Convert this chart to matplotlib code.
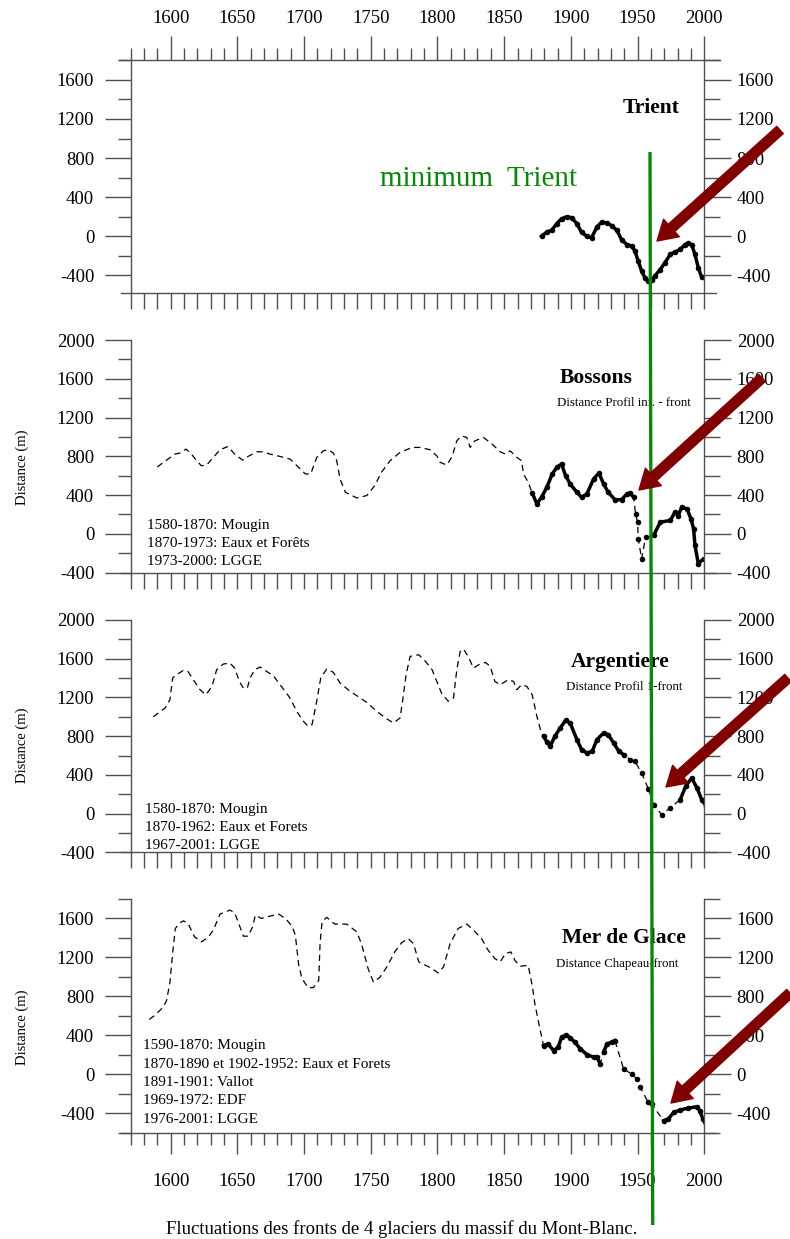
import numpy as np
import matplotlib
matplotlib.use('Agg')
import matplotlib.pyplot as plt
from matplotlib.ticker import MultipleLocator
from matplotlib.patches import FancyArrowPatch
from matplotlib.lines import Line2D
from matplotlib.transforms import blended_transform_factory

plt.rcParams.update({'font.family': ['Liberation Serif', 'DejaVu Serif'], 'axes.unicode_minus': False})

# ---- front positions (year, distance in m) ----
trient_years = [1878, 1882, 1885.5, 1889.5, 1893, 1897, 1900.5, 1904.5, 1908, 1912, 1915.5, 1919.5,
                1923, 1927, 1930.5, 1934.5, 1938, 1942, 1945.5, 1948, 1950.5, 1953, 1955.5, 1958,
                1960.5, 1963, 1967, 1970.5, 1974.5, 1978, 1982, 1985.5, 1988, 1990.5, 1993, 1995.5, 1998]
trient_dist = [0, 44, 60, 130, 180, 200, 190, 130, 40, 0, -15, 95,
               145, 135, 110, 60, -35, -85, -100, -150, -255, -355, -425, -460,
               -450, -405, -340, -270, -185, -160, -135, -85, -70, -85, -185, -320, -420]

bossons_hist_years = [1590, 1597, 1603, 1607, 1611.5, 1615, 1619.5, 1623, 1627, 1632, 1637, 1643, 1648,
                      1654, 1658, 1664.5, 1669.5, 1674.5, 1682, 1689.5, 1696, 1701, 1705, 1709.5, 1714.5,
                      1718, 1722, 1724.5, 1727, 1731, 1739.5, 1747, 1753, 1758, 1764.5, 1772, 1781, 1787,
                      1794.5, 1799.5, 1802, 1807, 1811, 1814.5, 1818, 1822, 1824.5, 1828, 1834.5, 1841,
                      1847, 1851, 1854.5, 1859.5, 1863, 1864.5, 1868]
bossons_hist_dist = [690, 760, 822, 833, 874, 833, 754, 702, 709, 788, 867, 901, 822,
                     760, 798, 846, 846, 822, 798, 771, 685, 617, 617, 788, 856,
                     867, 833, 754, 565, 428, 370, 394, 497, 634, 754, 840, 891, 891,
                     867, 805, 737, 709, 798, 959, 1010, 994, 891, 959, 994, 925,
                     846, 822, 856, 788, 754, 617, 531]
bossons_obs_years = [1871, 1874.5, 1878, 1882, 1886, 1889.5, 1893, 1896, 1899.5, 1904.5, 1908, 1912,
                     1917, 1921, 1924.5, 1928, 1933, 1938, 1942, 1944.5, 1947, np.nan,
                     1948.5, np.nan, 1950, np.nan, 1950.5, np.nan, 1953, np.nan, 1956, np.nan,
                     1962, 1967, 1974.5, 1978, 1980.5, 1983, 1987, 1990, 1992, 1993, 1995.5, 1999.5, 2002]
bossons_obs_dist = [421, 308, 377, 480, 617, 686, 720, 600, 514, 428, 377, 411,
                    565, 627, 514, 428, 352, 352, 411, 421, 377, np.nan,
                    206, np.nan, 120, np.nan, -50, np.nan, -260, np.nan, -35, np.nan,
                    -17, 120, 137, 223, 188, 274, 257, 154, 51, -120, -308, -257, -274]

argentiere_hist_years = [1587, 1591, 1596, 1599.5, 1601.5, 1604.5, 1609.5, 1613, 1617, 1622, 1626.5, 1631,
                         1634.5, 1639.5, 1644.5, 1648, 1651.5, 1654.5, 1657.5, 1659.5, 1663, 1667, 1672,
                         1677, 1683, 1689.5, 1694.5, 1699.5, 1703, 1706, 1709.5, 1712.5, 1717, 1722, 1727,
                         1733, 1739.5, 1747, 1754.5, 1761, 1767, 1772, 1774, 1776.5, 1779.5, 1786, 1791,
                         1796, 1799.5, 1803, 1808, 1812, 1814.5, 1817, 1819.5, 1823, 1827, 1831, 1836,
                         1839.5, 1843, 1847, 1853, 1857, 1859.5, 1863, 1867, 1871, 1874.5, 1877.5]
argentiere_hist_dist = [1000, 1041, 1092, 1177, 1401, 1435, 1479, 1469, 1383, 1280, 1228, 1314,
                        1486, 1545, 1555, 1504, 1366, 1297, 1297, 1401, 1486, 1514, 1469,
                        1424, 1314, 1194, 1057, 954, 902, 920, 1161, 1401, 1494, 1459, 1349,
                        1280, 1218, 1149, 1057, 988, 936, 988, 1177, 1435, 1624, 1641, 1573,
                        1486, 1366, 1246, 1161, 1194, 1486, 1675, 1700, 1624, 1504, 1538, 1562,
                        1521, 1366, 1331, 1383, 1366, 1280, 1331, 1314, 1228, 1005, 850]
argentiere_obs_years = [1879.5, 1882, 1884.5, 1888, 1892, 1896, 1899.5, 1904.5, 1908, 1912, 1916,
                        1919.5, 1924.5, 1928, 1932, 1936, 1939.5, np.nan, 1944.5, np.nan, 1948, np.nan,
                        1953, np.nan, 1958, np.nan, 1962, np.nan, 1968, np.nan, 1974.5, np.nan,
                        1982, 1986, 1990.5, 1994.5, 1998, 2001.5]
argentiere_obs_dist = [798, 740, 695, 798, 884, 963, 936, 764, 661, 626, 643,
                       764, 833, 815, 730, 643, 609, np.nan, 557, np.nan, 540, np.nan,
                       420, np.nan, 258, np.nan, 93, np.nan, -10, np.nan, 59, np.nan,
                       145, 282, 368, 265, 145, 75]

merdeglace_hist_years = [1584, 1588, 1594.5, 1597, 1599.5, 1601.5, 1603.5, 1607, 1609.5, 1613, 1618, 1623,
                         1628, 1632, 1637, 1644.5, 1648, 1651.5, 1654.5, 1658, 1661.5, 1663.5, 1668,
                         1674.5, 1681, 1686, 1691, 1693.5, 1696, 1698.5, 1703, 1707, 1711, 1712, 1713.5,
                         1717, 1723, 1732, 1739.5, 1743, 1748, 1752, 1757, 1762, 1768, 1773, 1778, 1782,
                         1786, 1791, 1796, 1800.5, 1804.5, 1809.5, 1815.5, 1822, 1827, 1833, 1838, 1843,
                         1847, 1851, 1855, 1858, 1862, 1868, 1871, 1873, 1876]
merdeglace_hist_dist = [562, 603, 689, 758, 946, 1239, 1497, 1555, 1576, 1549, 1410, 1359,
                        1404, 1480, 1645, 1686, 1658, 1531, 1418, 1418, 1514, 1634, 1600,
                        1624, 1645, 1600, 1521, 1428, 1119, 981, 889, 889, 964, 1342, 1566,
                        1611, 1542, 1542, 1462, 1342, 1085, 946, 998, 1101, 1256, 1349, 1394, 1342,
                        1153, 1119, 1085, 1040, 1101, 1342, 1497, 1542, 1480, 1394, 1273, 1188,
                        1153, 1239, 1256, 1170, 1108, 1119, 912, 724, 517]
merdeglace_obs_years = [1879.5, 1883, 1887, 1890.5, 1893, 1896.5, 1899.5, 1903, 1907, 1912, 1917,
                        1919.5, 1922, np.nan, 1924.5, 1927, 1930.5, 1933, np.nan, 1939.5, np.nan,
                        1945.5, np.nan, 1949.5, np.nan, 1952, np.nan, 1958, 1960.5, np.nan,
                        1969.5, 1973, 1977, 1982, 1988, 1994.5, 1996.5, 1999, 2002]
merdeglace_obs_dist = [294, 311, 242, 276, 380, 404, 373, 328, 260, 201, 174,
                       174, 105, np.nan, 225, 311, 328, 345, np.nan, 53, np.nan,
                       2, np.nan, -50, np.nan, -137, np.nan, -291, -307, np.nan,
                       -479, -462, -394, -369, -349, -335, -376, -462, -549]

glacier_names = ['Trient', 'Bossons', 'Argentiere', 'Mer de Glace']
subtitles = ['', 'Distance Profil inf. - front', 'Distance Profil 1-front', 'Distance Chapeau-front']
sources = [[],
           ['1580-1870: Mougin', '1870-1973: Eaux et Forêts', '1973-2000: LGGE'],
           ['1580-1870: Mougin', '1870-1962: Eaux et Forets', '1967-2001: LGGE'],
           ['1590-1870: Mougin', '1870-1890 et 1902-1952: Eaux et Forets', '1891-1901: Vallot',
            '1969-1972: EDF', '1976-2001: LGGE']]
hist_series = [([], []), (bossons_hist_years, bossons_hist_dist),
               (argentiere_hist_years, argentiere_hist_dist), (merdeglace_hist_years, merdeglace_hist_dist)]
obs_series = [(trient_years, trient_dist), (bossons_obs_years, bossons_obs_dist),
              (argentiere_obs_years, argentiere_obs_dist), (merdeglace_obs_years, merdeglace_obs_dist)]
y_limits = [(-575, 1800), (-400, 2000), (-400, 2000), (-600, 1800)]

# ---- layout, in pixels of the 790 x 1239 image ----
W, H = 790, 1239
AX_L, AX_R = 130.6, 704.3
tops = [60.3, 340, 620, 899]
bottoms = [292.5, 572.5, 852.3, 1132.5]
name_pos = [(651, 108), (596, 378), (620, 662), (624, 938)]
sub_pos = [None, (557, 403), (566, 687), (556, 964)]
src_pos = [None, (147, 525), (145, 809), (143, 1046)]
ylabel_y = [None, 467, 745, 1027]
arrow_tails = [(780, 130), (762, 378), (788, 678), (790, 993)]
arrow_tips = [(657, 241), (639, 490), (666, 787), (671, 1103)]
TICK_FS = 13.5
GREY = '#505050'
DARKRED = '#800000'
GREEN = '#0a870a'


def fx(x):
    return x / W


def fy(y):
    return 1 - y / H


def plot_glacier(ax, hist, obs):
    y_all = np.concatenate([np.asarray(hist[0], float), np.asarray(obs[0], float)])
    d_all = np.concatenate([np.asarray(hist[1], float), np.asarray(obs[1], float)])
    ok = np.isfinite(y_all) & np.isfinite(d_all)
    ax.plot(y_all[ok], d_all[ok], color='black', lw=0.9, dashes=(5, 3.5))
    ax.plot(obs[0], obs[1], color='black', lw=2.5, marker='o', ms=4, mew=0, solid_joinstyle='round')


fig = plt.figure(figsize=(W / 100, H / 100), dpi=100)
for i in range(4):
    top, bot = tops[i], bottoms[i]
    ax = fig.add_axes([fx(AX_L), fy(bot), (AX_R - AX_L) / W, (bot - top) / H])
    ax.set_xlim(1570, 2000)
    ax.set_ylim(*y_limits[i])
    plot_glacier(ax, hist_series[i], obs_series[i])

    for side in ['top', 'bottom']:
        ax.spines[side].set_visible(False)
    for side in ['left', 'right']:
        ax.spines[side].set_color(GREY)
        ax.spines[side].set_linewidth(1.0)
    bt = blended_transform_factory(ax.transData, ax.transAxes)
    ax.plot([1563, 2009], [0, 0], transform=bt, color=GREY, lw=1.0, clip_on=False)
    if i == 0:
        ax.plot([1561, 2012], [1, 1], transform=bt, color=GREY, lw=1.0, clip_on=False)

    # x ticks
    ax.xaxis.set_major_locator(MultipleLocator(50))
    ax.xaxis.set_minor_locator(MultipleLocator(10))
    if i == 3:
        ax.tick_params(axis='x', which='major', direction='out', length=15, width=1, color=GREY,
                       labelsize=TICK_FS, pad=14)
        ax.tick_params(axis='x', which='minor', direction='out', length=8.6, width=1, color=GREY)
    else:
        ax.tick_params(axis='x', which='both', direction='out', length=11.5, width=1, color=GREY,
                       labelbottom=False)
    if i == 0:
        sec = ax.secondary_xaxis('top')
        sec.spines['top'].set_visible(False)
        sec.xaxis.set_major_locator(MultipleLocator(50))
        sec.xaxis.set_minor_locator(MultipleLocator(10))
        sec.tick_params(axis='x', which='major', direction='out', length=17.3, width=1, color=GREY,
                        labelsize=TICK_FS, pad=7)
        sec.tick_params(axis='x', which='minor', direction='out', length=8.6, width=1, color=GREY)

    # y ticks, left and right
    ax.yaxis.set_major_locator(MultipleLocator(400))
    ax.yaxis.set_minor_locator(MultipleLocator(200))
    ax.tick_params(axis='y', which='major', direction='out', length=18.7, width=1, color=GREY,
                   labelsize=TICK_FS, pad=7.5)
    ax.tick_params(axis='y', which='minor', direction='out', length=9.1, width=1, color=GREY)
    ax2 = ax.twinx()
    ax2.set_ylim(*y_limits[i])
    for sp in ax2.spines.values():
        sp.set_visible(False)
    ax2.yaxis.set_major_locator(MultipleLocator(400))
    ax2.yaxis.set_minor_locator(MultipleLocator(200))
    ax2.tick_params(axis='y', which='major', direction='out', length=19.4, width=1, color=GREY,
                    labelsize=TICK_FS, pad=3.9)
    ax2.tick_params(axis='y', which='minor', direction='out', length=11.5, width=1, color=GREY)

    # labels and notes
    fig.text(fx(name_pos[i][0]), fy(name_pos[i][1]), glacier_names[i], ha='center', va='center',
             fontsize=15.5, fontweight='bold')
    if subtitles[i]:
        fig.text(fx(sub_pos[i][0]), fy(sub_pos[i][1]), subtitles[i], ha='left', va='center', fontsize=9.3)
    for k, line in enumerate(sources[i]):
        fig.text(fx(src_pos[i][0]), fy(src_pos[i][1] + 18.3 * k), line, ha='left', va='center',
                 fontsize=11)
    if ylabel_y[i]:
        fig.text(fx(22), fy(ylabel_y[i]), 'Distance (m)', rotation=90, ha='center', va='center',
                 fontsize=10.5)

fig.text(fx(380), fy(179), 'minimum  Trient', ha='left', va='center', fontsize=21, color=GREEN)
fig.text(fx(402), fy(1229), 'Fluctuations des fronts de 4 glaciers du massif du Mont-Blanc.',
         ha='center', va='center', fontsize=13.5)

# green marker of the Trient minimum, drawn across all panels
fig.add_artist(Line2D([fx(650), fx(652.7)], [fy(152), fy(1225)], color=GREEN, lw=2.4,
                      solid_capstyle='butt', zorder=10))
for (x0, y0), (x1, y1) in zip(arrow_tails, arrow_tips):
    fig.add_artist(FancyArrowPatch((fx(x0), fy(y0)), (fx(x1), fy(y1)), transform=fig.transFigure,
                                   arrowstyle='simple,head_length=14,head_width=17,tail_width=7',
                                   color=DARKRED, shrinkA=0, shrinkB=0, mutation_scale=1, zorder=11))

fig.savefig('out.png', dpi=100)
